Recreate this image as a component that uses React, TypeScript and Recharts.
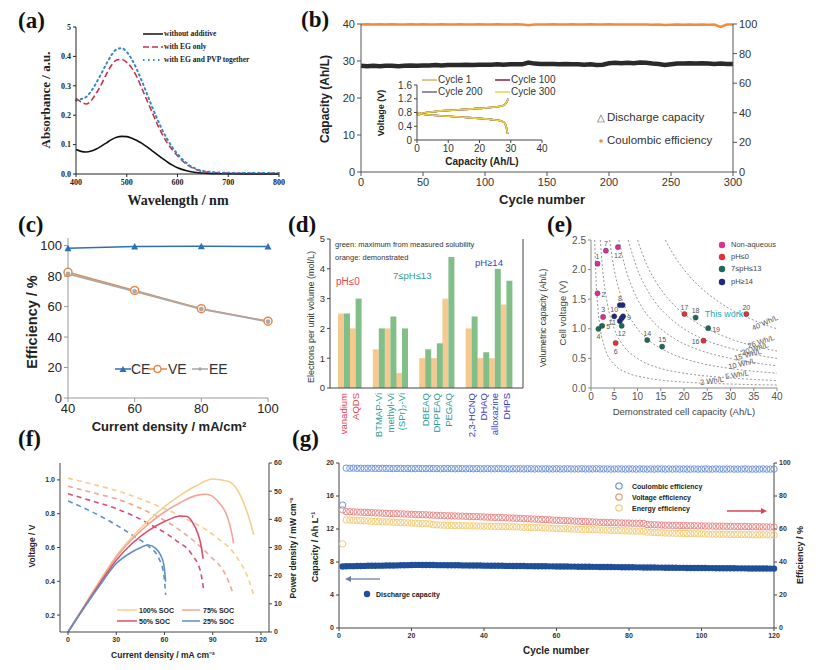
import React from 'react';
import { LineChart, Line, BarChart, Bar, ComposedChart, Scatter, XAxis, YAxis } from 'recharts';

const SANS = '"Liberation Sans", Arial, Helvetica, sans-serif';
const SERIF = '"Liberation Serif", "Times New Roman", serif';

// ---------- (a) absorbance spectra ----------
const A_WL = [400, 410, 420, 430, 440, 450, 460, 470, 480, 490, 500, 510, 520, 530, 540, 550, 560, 570, 580, 590, 600, 620, 640, 660, 680, 700, 750, 800];
const A_NONE = [0.083, 0.077, 0.075, 0.078, 0.085, 0.095, 0.106, 0.117, 0.125, 0.128, 0.127, 0.122, 0.114, 0.104, 0.092, 0.079, 0.066, 0.053, 0.041, 0.03, 0.021, 0.01, 0.004, 0.002, 0.001, 0.001, 0, 0];
const A_EG = [0.257, 0.245, 0.238, 0.25, 0.275, 0.305, 0.34, 0.37, 0.388, 0.39, 0.38, 0.36, 0.33, 0.29, 0.25, 0.21, 0.17, 0.135, 0.105, 0.082, 0.062, 0.03, 0.013, 0.006, 0.004, 0.003, 0.002, 0.002];
const A_PVP = [0.25, 0.255, 0.262, 0.282, 0.31, 0.342, 0.375, 0.405, 0.424, 0.428, 0.415, 0.39, 0.355, 0.315, 0.272, 0.228, 0.188, 0.15, 0.118, 0.09, 0.068, 0.034, 0.015, 0.008, 0.005, 0.004, 0.003, 0.003];

// ---------- (b) 300-cycle test ----------
const B_CYCLES = [0, 5, 10, 15, 20, 25, 30, 35, 40, 45, 50, 55, 60, 65, 70, 75, 80, 85, 90, 95, 100, 105, 110, 115, 120, 125, 130, 135, 140, 145, 150, 155, 160, 165, 170, 175, 180, 185, 190, 195, 200, 205, 210, 215, 220, 225, 230, 235, 240, 245, 250, 255, 260, 265, 270, 275, 280, 285, 290, 295, 300];
const B_CAP = [28.7, 28.6, 28.7, 28.6, 28.7, 28.7, 28.6, 28.7, 28.8, 28.7, 28.8, 28.8, 28.9, 28.8, 28.9, 28.9, 28.9, 29.0, 28.9, 29.0, 29.0, 29.0, 29.1, 29.0, 29.1, 29.1, 29.1, 29.6, 29.3, 29.2, 29.2, 29.2, 29.1, 29.2, 29.1, 29.1, 29.0, 29.1, 28.9, 29.0, 29.4, 29.5, 29.4, 29.5, 29.4, 29.6, 29.5, 29.3, 29.2, 28.9, 29.1, 29.3, 29.3, 29.4, 29.3, 29.4, 29.3, 29.2, 29.3, 29.2, 29.2];
const B_CE = [99.7, 99.8, 99.7, 99.8, 99.7, 99.8, 99.7, 99.7, 99.8, 99.7, 99.8, 99.7, 99.7, 99.8, 99.7, 99.7, 99.8, 99.7, 99.7, 99.8, 99.7, 99.7, 99.8, 99.7, 99.7, 99.8, 99.7, 99.2, 99.6, 99.7, 99.7, 99.8, 99.7, 99.7, 99.8, 99.7, 99.7, 99.8, 99.7, 99.6, 99.8, 99.7, 99.7, 99.6, 99.7, 99.7, 99.6, 99.5, 99.6, 99.4, 99.5, 99.6, 99.5, 99.6, 99.5, 99.6, 99.5, 99.6, 98.0, 99.6, 99.7];
// inset: voltage profiles
const INS_CHG_Q = [0, 2, 5, 10, 15, 20, 25, 27, 28, 28.7, 29.2];
const INS_CHG_V = [0.72, 0.78, 0.82, 0.86, 0.89, 0.92, 0.96, 0.99, 1.02, 1.1, 1.2];
const INS_DIS_Q = [0, 2, 5, 10, 15, 20, 25, 27, 28, 28.5, 28.8, 29];
const INS_DIS_V = [0.8, 0.75, 0.72, 0.69, 0.66, 0.63, 0.58, 0.55, 0.5, 0.4, 0.28, 0.18];
const INS_CYCLES = ['Cycle 1', 'Cycle 100', 'Cycle 200', 'Cycle 300'];
const INS_COLORS = ['#c9b66a', '#8d1d3c', '#6c6c86', '#ecd245'];

// ---------- (c) efficiency vs current density ----------
const C_J = [40, 60, 80, 100];
const C_CE = [98.3, 99.4, 99.6, 99.4];
const C_VE = [82.5, 70.6, 58.6, 50.4];
const C_EE = [81.5, 70.0, 58.3, 50.1];

// ---------- (d) electrons per unit volume ----------
const D_NAMES = ['vanadium', 'AQDS', ' ', 'BTMAP-Vi', 'methyl-Vi', '(SPr)₂-Vi', '  ', 'DBEAQ', 'DPPEAQ', 'PEGAQ', '   ', '2,3-HCNQ', 'DHAQ', 'alloxazine', 'DHPS'];
const D_DEMO = [2.5, 2.0, null, 1.3, 2.0, 0.5, null, 1.0, 1.0, 3.0, null, 2.0, 1.0, 1.0, 2.8];
const D_MAX = [2.5, 3.0, null, 2.0, 2.4, 2.0, null, 1.3, 1.5, 4.4, null, 2.4, 1.2, 4.0, 3.6];
const D_GROUP = ['acid', 'acid', '', 'neutral', 'neutral', 'neutral', '', 'neutral', 'neutral', 'neutral', '', 'base', 'base', 'base', 'base'];
const D_GROUP_COLOR: Record<string, string> = { acid: '#e8434f', neutral: '#2a9d95', base: '#3b3bcc', '': '#000' };

// ---------- (e) cell voltage vs capacity ----------
type EP = { x: number; y: number; n: string };
const E_NONAQ: EP[] = [{ x: 1.4, y: 2.1, n: '1' }, { x: 3.2, y: 2.32, n: '7' }, { x: 5.8, y: 2.38, n: '12' }, { x: 1.4, y: 1.6, n: '2' }, { x: 2.6, y: 1.2, n: '3' }];
const E_ACID: EP[] = [{ x: 5.3, y: 0.76, n: '6' }, { x: 20.1, y: 1.25, n: '17' }, { x: 24.2, y: 0.8, n: '16' }, { x: 33.4, y: 1.25, n: '20' }];
const E_NEUT: EP[] = [{ x: 1.6, y: 1.0, n: '4' }, { x: 2.4, y: 1.05, n: '5' }, { x: 6.6, y: 1.05, n: '12' }, { x: 12.1, y: 0.81, n: '14' }, { x: 15.3, y: 0.7, n: '15' }, { x: 22.5, y: 1.19, n: '18' }, { x: 25.2, y: 1.01, n: '19' }];
const E_BASE: EP[] = [{ x: 5.0, y: 1.21, n: '10' }, { x: 6.2, y: 1.4, n: '8' }, { x: 6.8, y: 1.4, n: '' }, { x: 6.2, y: 1.13, n: '11' }, { x: 6.6, y: 1.18, n: '' }, { x: 6.9, y: 1.21, n: '9' }];
const E_POS_NONAQ: Record<string, string> = { '1': 't', '7': 't', '12': 'b', '2': 'r', '3': 't' };
const E_POS_ACID: Record<string, string> = { '6': 'b', '17': 't', '16': 'l', '20': 't' };
const E_POS_NEUT: Record<string, string> = { '4': 'b', '5': 'r', '12': 'b', '14': 't', '15': 't', '18': 't', '19': 'r' };
const E_POS_BASE: Record<string, string> = { '10': 't', '8': 't', '11': 'l', '9': 'r' };
// iso-energy lines
const ISO_2 = [[0.8, 2.5], [1, 2], [1.5, 1.33], [2, 1], [3, 0.67], [5, 0.4], [8, 0.25], [12, 0.17], [20, 0.1], [30, 0.067], [40, 0.05]];
const ISO_5 = [[2, 2.5], [2.5, 2], [3.5, 1.43], [5, 1], [7, 0.71], [10, 0.5], [15, 0.33], [20, 0.25], [30, 0.17], [40, 0.125]];
const ISO_10 = [[4, 2.5], [5, 2], [6.5, 1.54], [8, 1.25], [10, 1], [13, 0.77], [17, 0.59], [22, 0.45], [30, 0.33], [40, 0.25]];
const ISO_15 = [[6, 2.5], [7.5, 2], [9, 1.67], [11, 1.36], [13, 1.15], [15, 1], [18, 0.83], [23, 0.65], [30, 0.5], [40, 0.375]];
const ISO_20 = [[8, 2.5], [10, 2], [12, 1.67], [14, 1.43], [17, 1.18], [20, 1], [24, 0.83], [30, 0.67], [35, 0.57], [40, 0.5]];
const ISO_25 = [[10, 2.5], [12, 2.08], [14, 1.79], [17, 1.47], [20, 1.25], [25, 1], [30, 0.83], [35, 0.71], [40, 0.625]];
const ISO_40 = [[16, 2.5], [18, 2.22], [20, 2], [23, 1.74], [26, 1.54], [30, 1.33], [34, 1.18], [37, 1.08], [40, 1.0]];
const ISO_LINES = [ISO_2, ISO_5, ISO_10, ISO_15, ISO_20, ISO_25, ISO_40];
const ISO_LABELS = [
  { t: '2 Wh/L', x: 26, y: 0.12, r: -8 },
  { t: '5 Wh/L', x: 31.3, y: 0.22, r: -10 },
  { t: '10 Wh/L', x: 32.5, y: 0.4, r: -13 },
  { t: '15 Wh/L', x: 33.7, y: 0.55, r: -15 },
  { t: '20 Wh/L', x: 35.3, y: 0.66, r: -17 },
  { t: '25 Wh/L', x: 36.5, y: 0.78, r: -18 },
  { t: '40 Wh/L', x: 37.5, y: 1.1, r: -24 },
];

// ---------- (f) polarization and power ----------
const F_IV100 = [0, 15, 30, 50, 71, 92, 104, 112, 115.5];
const F_V100 = [1.01, 0.975, 0.937, 0.869, 0.781, 0.663, 0.556, 0.419, 0.32];
const F_IV75 = [0, 15, 30, 50, 71, 87.6, 98, 103];
const F_V75 = [0.963, 0.925, 0.888, 0.81, 0.693, 0.556, 0.438, 0.32];
const F_IV50 = [0, 15, 30, 50, 66.9, 77.2, 82.4, 84.5];
const F_V50 = [0.918, 0.875, 0.83, 0.742, 0.644, 0.556, 0.458, 0.34];
const F_IV25 = [0, 19.3, 40, 50.3, 56.5, 59.6, 60.7];
const F_V25 = [0.875, 0.79, 0.673, 0.605, 0.536, 0.438, 0.32];
const F_IP100 = [0, 10, 20, 30, 40, 50, 60, 70, 80, 90, 100, 108, 112, 115.5];
const F_P100 = [0, 9.3, 18.4, 27, 33.8, 39.5, 44.5, 48.6, 52, 54.3, 53.4, 47.5, 41.5, 34.5];
const F_IP75 = [0, 10, 20, 30, 40, 50, 60, 70, 80, 86, 93, 99, 101.5, 103];
const F_P75 = [0, 9.1, 18, 26.5, 33, 38.3, 42.6, 46, 48.5, 48.9, 46.5, 41, 36, 31.5];
const F_IP50 = [0, 10, 20, 30, 40, 50, 60, 70, 74, 77, 81, 83, 84];
const F_P50 = [0, 8.8, 17.4, 25.5, 31.5, 36, 39.2, 41.2, 41, 39.3, 34.5, 30, 26];
const F_IP25 = [0, 10, 20, 30, 40, 46, 50, 54.5, 57.6, 59.6, 60.7];
const F_P25 = [0, 8.6, 16.8, 24.3, 28.5, 30.2, 30.9, 29.7, 27.3, 23.8, 17.9];
const F_SOC = ['100% SOC', '75% SOC', '50% SOC', '25% SOC'];
const F_COLORS = ['#f6cf8c', '#f1a595', '#d9506e', '#5e8fca'];

// ---------- (g) 120-cycle test ----------
const G_CE = [
  74.5, 96.9, 96.8, 96.9, 96.8, 96.8, 96.7, 96.8, 96.8, 96.7,
  96.7, 96.8, 96.7, 96.7, 96.6, 96.7, 96.7, 96.6, 96.7, 96.6,
  96.6, 96.7, 96.6, 96.6, 96.7, 96.6, 96.6, 96.5, 96.6, 96.6,
  96.6, 96.5, 96.6, 96.6, 96.5, 96.6, 96.5, 96.6, 96.5, 96.5,
  96.6, 96.5, 96.5, 96.6, 96.5, 96.5, 96.4, 96.5, 96.5, 96.5,
  96.4, 96.5, 96.5, 96.4, 96.5, 96.4, 96.5, 96.4, 96.4, 96.5,
  96.4, 96.4, 96.5, 96.4, 96.4, 96.4, 96.5, 96.4, 96.4, 96.4,
  96.5, 96.4, 96.4, 96.4, 96.3, 96.4, 96.4, 96.4, 96.3, 96.4,
  96.4, 96.3, 96.4, 96.4, 96.3, 96.4, 96.3, 96.4, 96.4, 96.3,
  96.4, 96.3, 96.4, 96.3, 96.4, 96.3, 96.3, 96.4, 96.3, 96.3,
  96.4, 96.3, 96.3, 96.4, 96.3, 96.3, 96.3, 96.4, 96.3, 96.3,
  96.3, 96.4, 96.3, 96.3, 96.3, 96.3, 96.4, 96.3, 96.3, 96.3,
];
const G_VE = [
  71.6, 70.6, 70.5, 70.4, 70.3, 70.2, 70.1, 70.0, 69.9, 69.8,
  69.7, 69.6, 69.5, 69.4, 69.3, 69.3, 69.2, 69.1, 69.0, 68.9,
  68.8, 68.7, 68.7, 68.6, 68.5, 68.4, 68.3, 68.2, 68.1, 68.0,
  68.0, 67.9, 67.8, 67.8, 67.7, 67.6, 67.5, 67.5, 67.4, 67.3,
  67.2, 67.1, 67.0, 67.0, 66.9, 66.8, 66.7, 66.6, 66.5, 66.4,
  66.3, 66.2, 66.1, 66.0, 65.9, 65.8, 65.7, 65.6, 65.4, 65.3,
  65.2, 65.1, 65.0, 64.9, 64.8, 64.7, 64.6, 64.5, 64.4, 64.3,
  64.2, 64.1, 64.0, 63.9, 63.9, 63.8, 63.7, 63.7, 63.6, 63.6,
  63.5, 63.5, 63.5, 63.4, 62.7, 62.6, 62.6, 62.5, 62.4, 62.3,
  62.3, 62.2, 62.2, 62.1, 62.1, 62.0, 62.0, 62.0, 61.9, 61.9,
  61.8, 61.8, 61.8, 61.7, 61.7, 61.7, 61.6, 61.6, 61.6, 61.5,
  61.5, 61.5, 61.4, 61.4, 61.4, 61.3, 61.3, 61.3, 61.2, 61.2,
];
const G_EE = [
  51.0, 65.5, 65.4, 65.3, 65.2, 65.1, 65.0, 64.9, 64.7, 64.6,
  64.5, 64.4, 64.3, 64.2, 64.1, 64.0, 63.9, 63.8, 63.7, 63.6,
  63.5, 63.4, 63.3, 63.2, 63.1, 62.6, 62.5, 62.4, 62.3, 62.2,
  62.2, 62.1, 62.1, 62.0, 62.0, 61.9, 61.9, 61.8, 61.8, 61.7,
  61.7, 61.6, 61.6, 61.5, 61.5, 61.4, 61.4, 61.3, 61.3, 61.2,
  61.1, 61.0, 60.9, 60.8, 60.8, 60.7, 60.6, 60.5, 60.4, 60.3,
  60.2, 60.2, 60.1, 60.0, 59.9, 59.9, 59.8, 59.7, 59.7, 59.6,
  59.5, 59.4, 59.4, 59.3, 59.2, 59.1, 59.1, 59.0, 58.9, 58.8,
  58.8, 58.7, 58.7, 58.6, 58.1, 58.0, 57.9, 57.8, 57.7, 57.6,
  57.5, 57.5, 57.4, 57.4, 57.3, 57.3, 57.2, 57.2, 57.1, 57.0,
  57.0, 56.9, 56.9, 56.9, 56.8, 56.8, 56.8, 56.7, 56.7, 56.7,
  56.6, 56.6, 56.6, 56.5, 56.5, 56.5, 56.5, 56.4, 56.4, 56.4,
];
const G_DC = [
  7.45, 7.48, 7.5, 7.5, 7.52, 7.52, 7.53, 7.54, 7.55, 7.55,
  7.56, 7.56, 7.57, 7.58, 7.58, 7.59, 7.6, 7.61, 7.62, 7.64,
  7.65, 7.65, 7.64, 7.64, 7.63, 7.63, 7.62, 7.62, 7.62, 7.61,
  7.61, 7.6, 7.6, 7.59, 7.59, 7.58, 7.58, 7.57, 7.57, 7.56,
  7.56, 7.55, 7.55, 7.54, 7.54, 7.53, 7.53, 7.52, 7.52, 7.51,
  7.51, 7.5, 7.5, 7.49, 7.49, 7.48, 7.48, 7.47, 7.47, 7.46,
  7.46, 7.45, 7.45, 7.44, 7.44, 7.43, 7.43, 7.42, 7.42, 7.41,
  7.41, 7.4, 7.4, 7.39, 7.39, 7.38, 7.38, 7.37, 7.37, 7.36,
  7.36, 7.35, 7.35, 7.34, 7.34, 7.33, 7.33, 7.32, 7.32, 7.31,
  7.31, 7.3, 7.3, 7.29, 7.29, 7.28, 7.28, 7.28, 7.27, 7.27,
  7.27, 7.26, 7.26, 7.25, 7.25, 7.25, 7.24, 7.24, 7.24, 7.23,
  7.23, 7.23, 7.22, 7.22, 7.22, 7.21, 7.21, 7.21, 7.2, 7.2,
];

// ---------- rows built from the arrays ----------
const aRows = A_WL.map((wl, i) => ({ wl, none: A_NONE[i], eg: A_EG[i], pvp: A_PVP[i] }));
const bRows = B_CYCLES.map((c, i) => ({ c, cap: B_CAP[i], ce: B_CE[i] }));
const insChg = INS_CHG_Q.map((q, i) => ({ q, v: INS_CHG_V[i] }));
const insDis = INS_DIS_Q.map((q, i) => ({ q, v: INS_DIS_V[i] }));
const cRows = C_J.map((j, i) => ({ j, ce: C_CE[i], ve: C_VE[i], ee: C_EE[i] }));
const dRows = D_NAMES.map((name, i) => ({ name, demo: D_DEMO[i], max: D_MAX[i] }));
const isoRows = ISO_LINES.map((l) => l.map(([x, y]) => ({ x, y })));
const pts = (xs: number[], ys: number[], k: string) => xs.map((i, n) => ({ i, [k]: ys[n] }));
const fV = [pts(F_IV100, F_V100, 'v'), pts(F_IV75, F_V75, 'v'), pts(F_IV50, F_V50, 'v'), pts(F_IV25, F_V25, 'v')];
const fP = [pts(F_IP100, F_P100, 'p'), pts(F_IP75, F_P75, 'p'), pts(F_IP50, F_P50, 'p'), pts(F_IP25, F_P25, 'p')];
const gRows = G_CE.map((ce, i) => ({ cycle: i + 1, ce, ve: G_VE[i], ee: G_EE[i], dc: G_DC[i] }));

// ---------- small helpers ----------
function T({ x, y, rot, size = 10, bold, serif, color = '#222', anchor = 'middle', children }: any) {
  const tx = anchor === 'middle' ? '-50%' : anchor === 'end' ? '-100%' : '0';
  return (
    <div
      style={{
        position: 'absolute', left: x, top: y, whiteSpace: 'nowrap', lineHeight: 1,
        transform: `translate(${tx}, -50%)${rot ? ` rotate(${rot}deg)` : ''}`,
        fontSize: size, fontWeight: bold ? 700 : 400, fontFamily: serif ? SERIF : SANS, color,
      }}
    >
      {children}
    </div>
  );
}

function Sw({ x, y, w, color, dash, sw = 1.5, marker }: any) {
  return (
    <svg style={{ position: 'absolute', left: x, top: y - 6 }} width={w} height={12}>
      {w > 8 && <line x1={0} y1={6} x2={w} y2={6} stroke={color} strokeWidth={sw} strokeDasharray={dash} />}
      {marker === 'tri' && <polygon points={`${w / 2 - 3.5},9 ${w / 2 + 3.5},9 ${w / 2},3`} fill={color} />}
      {marker === 'circ' && <circle cx={w / 2} cy={6} r={3.5} fill="#fff" stroke={color} strokeWidth={1.5} />}
      {marker === 'ring' && <circle cx={w / 2} cy={6} r={3.2} fill="none" stroke={color} strokeWidth={1.2} />}
      {marker === 'dot' && <circle cx={w / 2} cy={6} r={3.2} fill={color} />}
      {marker === 'small' && <circle cx={w / 2} cy={6} r={1.8} fill={color} />}
    </svg>
  );
}

const Tri = ({ cx, cy, color }: any) => (
  <polygon points={`${cx - 3.5},${cy + 3} ${cx + 3.5},${cy + 3} ${cx},${cy - 3.5}`} fill={color} />
);

const DTick = (props: any) => {
  const { x, y, payload } = props;
  const idx = props.index ?? payload.index ?? 0;
  const color = D_GROUP_COLOR[D_GROUP[idx]];
  return (
    <text x={x} y={y + 1} transform={`rotate(-90 ${x} ${y + 1})`} textAnchor="end" dominantBaseline="central" fill={color} fontSize={9.5} fontFamily={SANS}>
      {String(payload.value).trim()}
    </text>
  );
};

const makeEDot = (color: string, posMap: Record<string, string>) => (p: any) => {
  const { cx, cy, payload } = p;
  const pos = posMap[payload.n];
  let lx = cx, ly = cy, anchor: any = 'middle';
  if (pos === 't') ly = cy - 7;
  if (pos === 'b') ly = cy + 8;
  if (pos === 'r') { lx = cx + 4; anchor = 'start'; ly = cy + 1; }
  if (pos === 'l') { lx = cx - 4; anchor = 'end'; ly = cy + 1; }
  return (
    <g>
      <circle cx={cx} cy={cy} r={2.6} fill={color} stroke="#333" strokeWidth={0.4} />
      {payload.n && <text x={lx} y={ly} textAnchor={anchor} dominantBaseline="central" fontSize={7} fill="#555" fontFamily={SANS}>{payload.n}</text>}
    </g>
  );
};

const ring = (color: string, r = 3.2) => (p: any) => <circle cx={p.cx} cy={p.cy} r={r} fill="none" stroke={color} strokeWidth={1} />;
const disc = (color: string) => (p: any) => <circle cx={p.cx} cy={p.cy} r={3.2} fill={color} />;

const tk = (size: number, extra: any = {}) => ({ fontSize: size, fontFamily: SANS, fill: '#333', ...extra });

export default function App() {
  const serifTick = { fontSize: 8, fontFamily: SERIF, fontWeight: 700, fill: '#222' };
  const boldTiny = tk(7, { fontWeight: 700 });
  return (
    <div style={{ position: 'absolute', left: 0, top: 0, width: 830, height: 670, background: '#fff', overflow: 'hidden', fontFamily: SANS }}>
      {/* (a) */}
      <div style={{ position: 'absolute', left: 30, top: 15 }}>
        <LineChart width={260} height={200} data={aRows} margin={{ top: 12, right: 11, bottom: 21, left: 0 }}>
          <XAxis dataKey="wl" type="number" domain={[400, 800]} ticks={[400, 500, 600, 700, 800]} interval={0} height={20} tickSize={3} stroke="#222" tick={serifTick} />
          <XAxis xAxisId="top" orientation="top" dataKey="wl" type="number" domain={[400, 800]} height={0} tick={false} tickLine={false} stroke="#222" />
          <YAxis type="number" domain={[0, 0.5]} ticks={[0, 0.1, 0.2, 0.3, 0.4, 0.5]} interval={0} width={46} tickSize={3} stroke="#222" tick={serifTick} tickFormatter={(v: number) => (v === 0.5 ? '5' : v.toFixed(1))} />
          <YAxis yAxisId="frame" orientation="right" width={0} tick={false} tickLine={false} stroke="#222" />
          <Line type="monotone" dataKey="none" stroke="#111" strokeWidth={1.6} dot={false} isAnimationActive={false} />
          <Line type="monotone" dataKey="eg" stroke="#cc2f45" strokeWidth={1.6} strokeDasharray="6 3" dot={false} isAnimationActive={false} />
          <Line type="monotone" dataKey="pvp" stroke="#3689c9" strokeWidth={2} strokeDasharray="1.5 3.5" strokeLinecap="round" dot={false} isAnimationActive={false} />
        </LineChart>
      </div>
      <T x={18} y={20} size={23} bold serif color="#111" anchor="start">(a)</T>
      <T x={45} y={100} rot={-90} size={13} bold serif>Absorbance / a.u.</T>
      <T x={178} y={201} size={14} bold serif>Wavelength / nm</T>
      <Sw x={143} y={34} w={20} color="#111" />
      <T x={164} y={34} size={7.5} bold serif anchor="start">without additive</T>
      <Sw x={143} y={47} w={20} color="#cc2f45" dash="6 3" />
      <T x={164} y={47} size={7.5} bold serif anchor="start">with EG only</T>
      <Sw x={143} y={60} w={20} color="#3689c9" dash="1.5 3.5" sw={2} />
      <T x={164} y={60} size={7.5} bold serif anchor="start">with EG and PVP together</T>

      {/* (b) */}
      <div style={{ position: 'absolute', left: 300, top: 5 }}>
        <LineChart width={530} height={215} data={bRows} margin={{ top: 19, right: 37, bottom: 23, left: 0 }}>
          <XAxis dataKey="c" type="number" domain={[0, 300]} ticks={[0, 50, 100, 150, 200, 250, 300]} interval={0} height={25} tickSize={4} stroke="#555" tick={tk(11)} />
          <YAxis type="number" domain={[0, 40]} ticks={[0, 10, 20, 30, 40]} interval={0} width={61} tickSize={4} stroke="#555" tick={tk(11)} />
          <YAxis yAxisId="r" orientation="right" type="number" domain={[0, 100]} ticks={[0, 20, 40, 60, 80, 100]} interval={0} width={60} tickSize={4} stroke="#555" tick={tk(11)} />
          <Line dataKey="cap" stroke="#2a2a2a" strokeWidth={4.5} dot={false} isAnimationActive={false} />
          <Line dataKey="ce" yAxisId="r" stroke="#f08c3c" strokeWidth={2.5} dot={false} isAnimationActive={false} />
        </LineChart>
      </div>
      <div style={{ position: 'absolute', left: 380, top: 60 }}>
        <LineChart width={175} height={105} margin={{ top: 25, right: 13, bottom: 11, left: 0 }}>
          <XAxis dataKey="q" type="number" domain={[0, 40]} ticks={[0, 10, 20, 30, 40]} interval={0} height={14} tickSize={3} stroke="#444" tick={tk(10)} />
          <YAxis type="number" domain={[0, 1.6]} ticks={[0, 0.4, 0.8, 1.2, 1.6]} interval={0} width={37} tickSize={3} stroke="#444" tick={tk(10)} tickFormatter={(v: number) => (v === 0 ? '0' : v.toFixed(1))} />
          {INS_CYCLES.map((name, k) => (
            <Line key={`c${k}`} data={insChg} dataKey="v" name={name} type="monotone" stroke={INS_COLORS[k]} strokeWidth={1.6} dot={false} isAnimationActive={false} />
          ))}
          {INS_CYCLES.map((name, k) => (
            <Line key={`d${k}`} data={insDis} dataKey="v" name={name} type="monotone" stroke={INS_COLORS[k]} strokeWidth={1.6} dot={false} isAnimationActive={false} />
          ))}
        </LineChart>
      </div>
      <T x={301} y={19} size={23} bold serif color="#111" anchor="start">(b)</T>
      <T x={325} y={99} rot={-90} size={12} bold>Capacity (Ah/L)</T>
      <T x={542} y={199} size={13} bold>Cycle number</T>
      <T x={381} y={113} rot={-90} size={9} bold>Voltage (V)</T>
      <T x={482} y={162} size={10} bold>Capacity (Ah/L)</T>
      <Sw x={422} y={80} w={15} color={INS_COLORS[0]} />
      <T x={438} y={80} size={10} anchor="start" color="#333">{INS_CYCLES[0]}</T>
      <Sw x={495} y={80} w={15} color={INS_COLORS[1]} />
      <T x={511} y={80} size={10} anchor="start" color="#333">{INS_CYCLES[1]}</T>
      <Sw x={422} y={92} w={15} color={INS_COLORS[2]} />
      <T x={438} y={92} size={10} anchor="start" color="#333">{INS_CYCLES[2]}</T>
      <Sw x={495} y={92} w={15} color={INS_COLORS[3]} />
      <T x={511} y={92} size={10} anchor="start" color="#333">{INS_CYCLES[3]}</T>
      <T x={597} y={118} size={10} anchor="start" color="#555">△</T>
      <T x={607} y={118} size={11.5} anchor="start" color="#333">Discharge capacity</T>
      <Sw x={597} y={141} w={8} color="#f08c3c" marker="small" />
      <T x={607} y={141} size={11.5} anchor="start" color="#333">Coulombic efficiency</T>

      {/* (c) */}
      <div style={{ position: 'absolute', left: 0, top: 225 }}>
        <LineChart width={290} height={215} data={cRows} margin={{ top: 13, right: 22, bottom: 20, left: 0 }}>
          <XAxis dataKey="j" type="number" domain={[40, 100]} ticks={[40, 60, 80, 100]} interval={0} height={22} tickSize={4} stroke="#999" tick={tk(13, { fill: '#222' })} />
          <XAxis xAxisId="top" orientation="top" dataKey="j" type="number" domain={[40, 100]} height={0} tick={false} tickLine={false} stroke="#999" />
          <YAxis type="number" domain={[0, 105]} ticks={[0, 20, 40, 60, 80, 100]} interval={0} width={68} tickSize={4} stroke="#999" tick={tk(13, { fill: '#222' })} />
          <YAxis yAxisId="frame" orientation="right" width={0} tick={false} tickLine={false} stroke="#999" />
          <Line dataKey="ce" stroke="#2e70b6" strokeWidth={1.5} isAnimationActive={false} dot={(p: any) => <Tri key={`t${p.index}`} cx={p.cx} cy={p.cy} color="#2e70b6" />} />
          <Line dataKey="ve" stroke="#e08a4e" strokeWidth={1.5} isAnimationActive={false} dot={{ r: 4, fill: '#fff', stroke: '#e08a4e', strokeWidth: 1.5 }} />
          <Line dataKey="ee" stroke="#a9a9a9" strokeWidth={1.8} isAnimationActive={false} dot={{ r: 1.5, fill: '#a9a9a9', stroke: '#a9a9a9' }} />
        </LineChart>
      </div>
      <T x={18} y={224} size={23} bold serif color="#111" anchor="start">(c)</T>
      <T x={32} y={322} rot={-90} size={14.5} bold>Efficiency / %</T>
      <T x={169} y={426} size={13} bold>Current density / mA/cm²</T>
      <Sw x={115} y={369} w={16} color="#2e70b6" marker="tri" />
      <T x={131} y={369} size={14} anchor="start" color="#333">CE</T>
      <Sw x={148} y={369} w={19} color="#e08a4e" marker="circ" />
      <T x={168} y={369} size={14} anchor="start" color="#333">VE</T>
      <Sw x={192} y={369} w={16} color="#a9a9a9" marker="small" />
      <T x={209} y={369} size={14} anchor="start" color="#333">EE</T>

      {/* (d) */}
      <div style={{ position: 'absolute', left: 285, top: 225 }}>
        <BarChart width={270} height={232} data={dRows} margin={{ top: 14, right: 0, bottom: 17, left: 0 }} barGap={0} barCategoryGap={0}>
          <XAxis dataKey="name" interval={0} height={52} tickLine={false} tickSize={2} stroke="#444" tick={(p: any) => <DTick {...p} />} padding={{ left: 8, right: 11 }} />
          <XAxis xAxisId="top" orientation="top" dataKey="name" height={0} tick={false} tickLine={false} stroke="#444" />
          <YAxis type="number" domain={[0, 5]} ticks={[0, 1, 2, 3, 4, 5]} interval={0} width={45} tickSize={3} stroke="#444" tick={tk(9.5)} />
          <YAxis yAxisId="r" orientation="right" type="number" domain={[0, 134]} ticks={[0, 20, 40, 60, 80, 100, 120]} interval={0} width={32} tickSize={3} stroke="#444" tick={tk(9.5)} />
          <Bar dataKey="demo" fill="#f6c990" isAnimationActive={false} />
          <Bar dataKey="max" fill="#82bf88" isAnimationActive={false} />
        </BarChart>
      </div>
      <T x={288} y={224} size={23} bold serif color="#111" anchor="start">(d)</T>
      <T x={311} y={317} rot={-90} size={9} color="#333">Electrons per unit volume (mol/L)</T>
      <T x={543} y={318} rot={-90} size={8.5} color="#333">Volumetric capacity (Ah/L)</T>
      <T x={335} y={245} size={7.5} anchor="start" color="#333">green: maximum from measured solubility</T>
      <T x={335} y={258} size={7.5} anchor="start" color="#333">orange: demonstrated</T>
      <T x={336} y={282} size={10} anchor="start" color="#e8434f">pH≤0</T>
      <T x={393} y={276} size={9.5} anchor="start" color="#2a9d95">7≤pH≤13</T>
      <T x={475} y={263} size={9.5} anchor="start" color="#3b3bcc">pH≥14</T>

      {/* (e) */}
      <div style={{ position: 'absolute', left: 530, top: 225 }}>
        <ComposedChart width={300} height={215} margin={{ top: 15, right: 53, bottom: 30, left: 0 }}>
          <XAxis dataKey="x" type="number" domain={[0, 40]} ticks={[0, 5, 10, 15, 20, 25, 30, 35, 40]} interval={0} height={22} tickSize={3} stroke="#888" tick={tk(10, { fill: '#555' })} allowDuplicatedCategory={false} />
          <XAxis xAxisId="top" orientation="top" type="number" domain={[0, 40]} height={0} tick={false} tickLine={false} stroke="#888" />
          <YAxis dataKey="y" type="number" domain={[0, 2.5]} ticks={[0, 0.5, 1, 1.5, 2, 2.5]} interval={0} width={61} tickSize={3} stroke="#888" tick={tk(10, { fill: '#555' })} tickFormatter={(v: number) => v.toFixed(1)} />
          <YAxis yAxisId="frame" orientation="right" width={0} tick={false} tickLine={false} stroke="#888" />
          {isoRows.map((rows, k) => (
            <Line key={`iso${k}`} data={rows} dataKey="y" type="monotone" stroke="#8a8a8a" strokeWidth={0.9} strokeDasharray="2 2" dot={false} isAnimationActive={false} />
          ))}
          <Scatter data={E_NONAQ} dataKey="y" fill="#d6339a" shape={makeEDot('#d6339a', E_POS_NONAQ)} isAnimationActive={false} />
          <Scatter data={E_ACID} dataKey="y" fill="#e8303c" shape={makeEDot('#e8303c', E_POS_ACID)} isAnimationActive={false} />
          <Scatter data={E_NEUT} dataKey="y" fill="#1f6a5c" shape={makeEDot('#1f6a5c', E_POS_NEUT)} isAnimationActive={false} />
          <Scatter data={E_BASE} dataKey="y" fill="#1b2a86" shape={makeEDot('#1b2a86', E_POS_BASE)} isAnimationActive={false} />
        </ComposedChart>
      </div>
      {ISO_LABELS.map((l) => (
        <T key={l.t} x={591 + (l.x / 40) * 186} y={388 - (l.y / 2.5) * 148} rot={l.r} size={7.5} color="#555">{l.t}</T>
      ))}
      <T x={591 + (28.6 / 40) * 186} y={388 - (1.25 / 2.5) * 148} size={9} color="#2aa5b5">This work</T>
      <T x={547} y={224} size={23} bold serif color="#111" anchor="start">(e)</T>
      <T x={563} y={313} rot={-90} size={9.5} color="#444">Cell voltage (V)</T>
      <T x={684} y={412} size={9.5} color="#444">Demonstrated cell capacity (Ah/L)</T>
      <Sw x={718} y={245} w={8} color="#d6339a" marker="dot" />
      <T x={731} y={245} size={7.5} anchor="start" color="#444">Non-aqueous</T>
      <Sw x={718} y={257} w={8} color="#e8303c" marker="dot" />
      <T x={731} y={257} size={7.5} anchor="start" color="#444">pH≤0</T>
      <Sw x={718} y={269} w={8} color="#1f6a5c" marker="dot" />
      <T x={731} y={269} size={7.5} anchor="start" color="#444">7≤pH≤13</T>
      <Sw x={718} y={282} w={8} color="#1b2a86" marker="dot" />
      <T x={731} y={282} size={7.5} anchor="start" color="#444">pH≥14</T>

      {/* (f) */}
      <div style={{ position: 'absolute', left: 0, top: 450 }}>
        <LineChart width={300} height={220} margin={{ top: 13, right: 0, bottom: 18, left: 0 }}>
          <XAxis dataKey="i" type="number" domain={[-5, 125]} ticks={[0, 30, 60, 90, 120]} interval={0} height={20} tickSize={3} stroke="#444" tick={boldTiny} allowDuplicatedCategory={false} />
          <XAxis xAxisId="top" orientation="top" type="number" domain={[-5, 125]} height={0} tick={false} tickLine={false} stroke="#444" />
          <YAxis type="number" domain={[0.1, 1.1]} ticks={[0.2, 0.4, 0.6, 0.8, 1.0]} interval={0} width={60} tickSize={3} stroke="#444" tick={boldTiny} tickFormatter={(v: number) => v.toFixed(1)} />
          <YAxis yAxisId="r" orientation="right" type="number" domain={[0, 60]} ticks={[0, 10, 20, 30, 40, 50, 60]} interval={0} width={31} tickSize={3} stroke="#444" tick={boldTiny} />
          {fV.map((rows, k) => (
            <Line key={`v${k}`} data={rows} dataKey="v" type="monotone" stroke={F_COLORS[k]} strokeWidth={1.6} strokeDasharray="5 4" dot={false} isAnimationActive={false} />
          ))}
          {fP.map((rows, k) => (
            <Line key={`p${k}`} data={rows} dataKey="p" yAxisId="r" type="monotone" stroke={F_COLORS[k]} strokeWidth={1.6} dot={false} isAnimationActive={false} />
          ))}
        </LineChart>
      </div>
      <T x={18} y={438} size={23} bold serif color="#111" anchor="start">(f)</T>
      <T x={32} y={546} rot={-90} size={8.5} bold>Voltage / V</T>
      <T x={163} y={655} size={8.5} bold>Current density / mA cm⁻²</T>
      <T x={293} y={548} rot={-90} size={8.5} bold>Power density / mW cm⁻²</T>
      <Sw x={117} y={610} w={20} color={F_COLORS[0]} />
      <T x={139} y={610} size={7} bold anchor="start">{F_SOC[0]}</T>
      <Sw x={182} y={610} w={18} color={F_COLORS[1]} />
      <T x={203} y={610} size={7} bold anchor="start">{F_SOC[1]}</T>
      <Sw x={117} y={621} w={20} color={F_COLORS[2]} />
      <T x={139} y={621} size={7} bold anchor="start">{F_SOC[2]}</T>
      <Sw x={182} y={621} w={18} color={F_COLORS[3]} />
      <T x={203} y={621} size={7} bold anchor="start">{F_SOC[3]}</T>

      {/* (g) */}
      <div style={{ position: 'absolute', left: 290, top: 450 }}>
        <ComposedChart width={540} height={220} data={gRows} margin={{ top: 13, right: 16, bottom: 22, left: 0 }}>
          <XAxis dataKey="cycle" type="number" domain={[0, 120]} ticks={[0, 20, 40, 60, 80, 100, 120]} interval={0} height={20} tickSize={3} stroke="#444" tick={boldTiny} />
          <XAxis xAxisId="top" orientation="top" dataKey="cycle" type="number" domain={[0, 120]} height={0} tick={false} tickLine={false} stroke="#444" />
          <YAxis type="number" domain={[0, 20]} ticks={[0, 4, 8, 12, 16, 20]} interval={0} width={49} tickSize={3} stroke="#444" tick={boldTiny} />
          <YAxis yAxisId="r" orientation="right" type="number" domain={[0, 100]} ticks={[0, 20, 40, 60, 80, 100]} interval={0} width={40} tickSize={3} stroke="#444" tick={boldTiny} />
          <Scatter dataKey="ee" yAxisId="r" shape={ring('#f3cd78')} isAnimationActive={false} />
          <Scatter dataKey="ve" yAxisId="r" shape={ring('#e98a8a')} isAnimationActive={false} />
          <Scatter dataKey="ce" yAxisId="r" shape={ring('#7097d6')} isAnimationActive={false} />
          <Scatter dataKey="dc" shape={disc('#1f4f99')} isAnimationActive={false} />
        </ComposedChart>
      </div>
      <T x={292} y={438} size={23} bold serif color="#111" anchor="start">(g)</T>
      <T x={315} y={547} rot={-90} size={9} bold>Capacity / Ah L⁻¹</T>
      <T x={556} y={651} size={10} bold>Cycle number</T>
      <T x={800} y={555} rot={-90} size={9} bold>Efficiency / %</T>
      <Sw x={615} y={486} w={8} color="#7097d6" marker="ring" />
      <T x={632} y={486} size={7} bold anchor="start">Coulombic efficiency</T>
      <Sw x={615} y={497} w={8} color="#d9a070" marker="ring" />
      <T x={632} y={497} size={7} bold anchor="start">Voltage efficiency</T>
      <Sw x={615} y={508} w={8} color="#f3cd78" marker="ring" />
      <T x={632} y={508} size={7} bold anchor="start">Energy efficiency</T>
      <Sw x={363} y={594} w={8} color="#1f4f99" marker="dot" />
      <T x={376} y={594} size={7} bold anchor="start">Discharge capacity</T>
      <svg style={{ position: 'absolute', left: 725, top: 505 }} width={45} height={12}>
        <line x1={2} y1={6} x2={38} y2={6} stroke="#e0405a" strokeWidth={1.3} />
        <polygon points="36,3 42,6 36,9" fill="#e0405a" />
      </svg>
      <svg style={{ position: 'absolute', left: 344, top: 573 }} width={40} height={12}>
        <line x1={6} y1={6} x2={36} y2={6} stroke="#6a7fb0" strokeWidth={1.3} />
        <polygon points="7,3 1,6 7,9" fill="#6a7fb0" />
      </svg>
    </div>
  );
}
